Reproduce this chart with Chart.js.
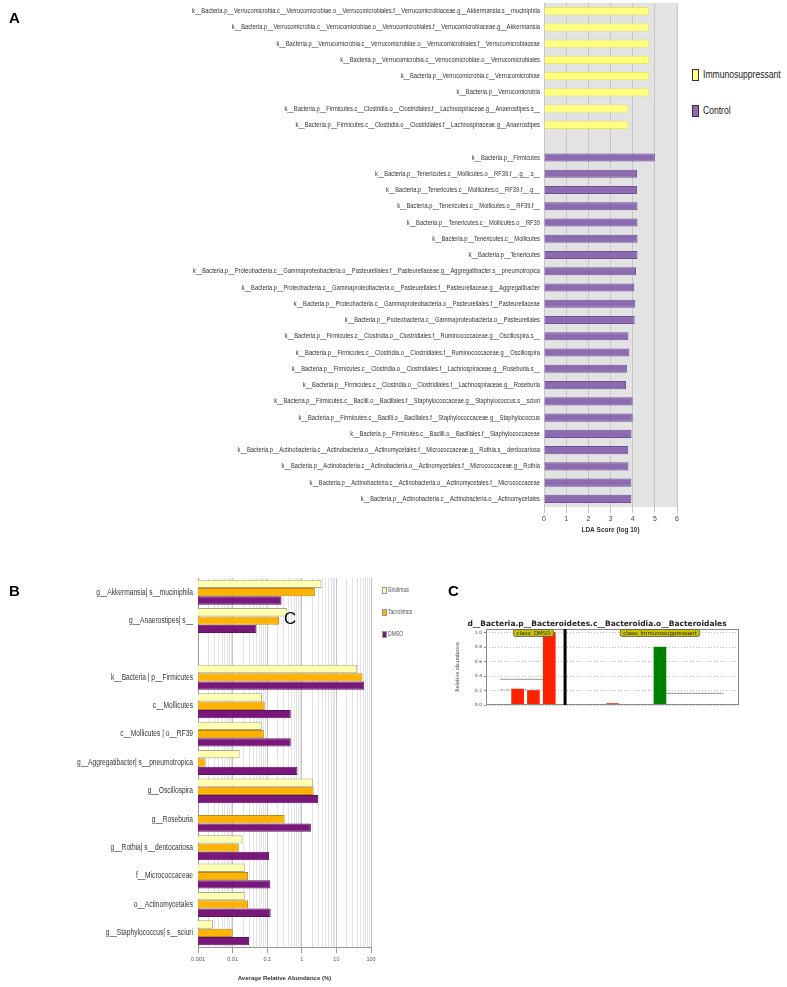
<!DOCTYPE html>
<html><head><meta charset="utf-8">
<script src="https://cdn.jsdelivr.net/npm/chart.js@4.4.1/dist/chart.umd.min.js"></script>
<style>
body{margin:0;background:#fff;width:787px;height:987px;position:relative;overflow:hidden;font-family:'Liberation Sans',Arial,sans-serif}
canvas{position:absolute}
.t{position:absolute;white-space:nowrap;line-height:1}
.n{transform:scaleX(0.78);transform-origin:0 50%}
.sq{position:absolute;box-sizing:border-box;border:1px solid #333}
</style></head><body>
<canvas id="cA" width="690" height="540" style="left:0px;top:0px"></canvas>
<canvas id="cB" width="380" height="417" style="left:0px;top:570px"></canvas>
<canvas id="cC" width="300" height="110" style="left:455px;top:615px"></canvas>

<div class="t" style="left:9px;top:10px;font-size:15px;font-weight:bold">A</div>
<div class="t" style="left:9px;top:583px;font-size:15px;font-weight:bold">B</div>
<div class="t" style="left:448px;top:583px;font-size:15px;font-weight:bold">C</div>
<div class="t" style="left:284px;top:610px;font-size:17px">C</div>

<div class="sq" style="left:692px;top:69px;width:7px;height:12px;background:#ffff80"></div>
<div class="t n" style="left:703px;top:69px;font-size:11px;color:#222">Immunosuppressant</div>
<div class="sq" style="left:692px;top:105px;width:7px;height:12px;background:#8c6bb1"></div>
<div class="t n" style="left:703px;top:105px;font-size:11px;color:#222">Control</div>

<div class="sq" style="left:382px;top:587px;width:5px;height:7px;background:#ffffb0;border-color:#999"></div>
<div class="t n" style="left:388px;top:587px;font-size:6.5px;color:#555">Sirolimus</div>
<div class="sq" style="left:382px;top:609px;width:5px;height:7px;background:#ffb300;border-color:#999"></div>
<div class="t n" style="left:388px;top:609px;font-size:6.5px;color:#555">Tacrolimus</div>
<div class="sq" style="left:382px;top:631px;width:5px;height:7px;background:#7a177a;border-color:#999"></div>
<div class="t n" style="left:388px;top:631px;font-size:6.5px;color:#555">DMSO</div>

<script>
// ---------- Panel A data (LDA scores, log10) ----------
const ldaLabels = [
 'k__Bacteria.p__Verrucomicrobia.c__Verrucomicrobiae.o__Verrucomicrobiales.f__Verrucomicrobiaceae.g__Akkermansia.s__muciniphila',
 'k__Bacteria.p__Verrucomicrobia.c__Verrucomicrobiae.o__Verrucomicrobiales.f__Verrucomicrobiaceae.g__Akkermansia',
 'k__Bacteria.p__Verrucomicrobia.c__Verrucomicrobiae.o__Verrucomicrobiales.f__Verrucomicrobiaceae',
 'k__Bacteria.p__Verrucomicrobia.c__Verrucomicrobiae.o__Verrucomicrobiales',
 'k__Bacteria.p__Verrucomicrobia.c__Verrucomicrobiae',
 'k__Bacteria.p__Verrucomicrobia',
 'k__Bacteria.p__Firmicutes.c__Clostridia.o__Clostridiales.f__Lachnospiraceae.g__Anaerostipes.s__',
 'k__Bacteria.p__Firmicutes.c__Clostridia.o__Clostridiales.f__Lachnospiraceae.g__Anaerostipes',
 '',
 'k__Bacteria.p__Firmicutes',
 'k__Bacteria.p__Tenericutes.c__Mollicutes.o__RF39.f__.g__.s__',
 'k__Bacteria.p__Tenericutes.c__Mollicutes.o__RF39.f__.g__',
 'k__Bacteria.p__Tenericutes.c__Mollicutes.o__RF39.f__',
 'k__Bacteria.p__Tenericutes.c__Mollicutes.o__RF39',
 'k__Bacteria.p__Tenericutes.c__Mollicutes',
 'k__Bacteria.p__Tenericutes',
 'k__Bacteria.p__Proteobacteria.c__Gammaproteobacteria.o__Pasteurellales.f__Pasteurellaceae.g__Aggregatibacter.s__pneumotropica',
 'k__Bacteria.p__Proteobacteria.c__Gammaproteobacteria.o__Pasteurellales.f__Pasteurellaceae.g__Aggregatibacter',
 'k__Bacteria.p__Proteobacteria.c__Gammaproteobacteria.o__Pasteurellales.f__Pasteurellaceae',
 'k__Bacteria.p__Proteobacteria.c__Gammaproteobacteria.o__Pasteurellales',
 'k__Bacteria.p__Firmicutes.c__Clostridia.o__Clostridiales.f__Ruminococcaceae.g__Oscillospira.s__',
 'k__Bacteria.p__Firmicutes.c__Clostridia.o__Clostridiales.f__Ruminococcaceae.g__Oscillospira',
 'k__Bacteria.p__Firmicutes.c__Clostridia.o__Clostridiales.f__Lachnospiraceae.g__Roseburia.s__',
 'k__Bacteria.p__Firmicutes.c__Clostridia.o__Clostridiales.f__Lachnospiraceae.g__Roseburia',
 'k__Bacteria.p__Firmicutes.c__Bacilli.o__Bacillales.f__Staphylococcaceae.g__Staphylococcus.s__sciuri',
 'k__Bacteria.p__Firmicutes.c__Bacilli.o__Bacillales.f__Staphylococcaceae.g__Staphylococcus',
 'k__Bacteria.p__Firmicutes.c__Bacilli.o__Bacillales.f__Staphylococcaceae',
 'k__Bacteria.p__Actinobacteria.c__Actinobacteria.o__Actinomycetales.f__Micrococcaceae.g__Rothia.s__dentocariosa',
 'k__Bacteria.p__Actinobacteria.c__Actinobacteria.o__Actinomycetales.f__Micrococcaceae.g__Rothia',
 'k__Bacteria.p__Actinobacteria.c__Actinobacteria.o__Actinomycetales.f__Micrococcaceae',
 'k__Bacteria.p__Actinobacteria.c__Actinobacteria.o__Actinomycetales'
];
const ldaImmuno = [4.75,4.75,4.75,4.75,4.75,4.75,3.81,3.81,
  null,null,null,null,null,null,null,null,null,null,null,null,null,null,null,null,null,null,null,null,null,null,null];
const ldaControl = [null,null,null,null,null,null,null,null,null,
  5.0,4.2,4.2,4.22,4.22,4.22,4.22,4.15,4.07,4.12,4.09,3.81,3.85,3.74,3.70,4.0,4.0,3.95,3.80,3.81,3.94,3.94];
const ldaTicks = [0,1,2,3,4,5,6];

// ---------- Panel B data (average relative abundance, %) ----------
const abLabels = ['g__Akkermansia| s__muciniphila','g__Anaerostipes| s__','',
  'k__Bacteria | p__Firmicutes','c__Mollicutes','c__Mollicutes | o__RF39',
  'g__Aggregatibacter| s__pneumotropica','g__Oscillospira','g__Roseburia',
  'g__Rothia| s__dentocariosa','f__Micrococcaceae','o__Actinomycetales','g__Staphylococcus| s__sciuri'];
const abSirolimus  = [3.7, 0.38, null, 40, 0.071, 0.069, 0.016, 2.13, null, 0.0193, 0.0225, 0.0225, 0.0027];
const abTacrolimus = [2.39, 0.22, null, 57, 0.085, 0.080, 0.00167, 2.2, 0.32, 0.0151, 0.028, 0.028, 0.0101];
const abDMSO       = [0.26, 0.049, null, 64, 0.48, 0.48, 0.75, 2.97, 1.83, 0.1135, 0.124, 0.126, 0.030];
const abTickLabels = ['0.001','0.01','0.1','1','10','100'];

// ---------- Panel C data (relative abundance per sample) ----------
const cTitle = 'd__Bacteria.p__Bacteroidetes.c__Bacteroidia.o__Bacteroidales';
const cDmsoX = [1,2,3,4];          const cDmsoY = [0,0.22,0.2,1.0];
const cImmRedX = [6,7,8,9,10];     const cImmRedY = [0,0,0.02,0,0];
const cImmGreenX = [11,12,13,14,15]; const cImmGreenY = [0.8,0,0,0,0];
const cDmsoMean = 0.355, cDmsoMedian = 0.21, cImmGreenMean = 0.16;
const cClassLabels = ['class: DMSO','class: Immunosuppressant'];
const cClassPos = [3.0, 11.0];
const cDivider = 5;

const SANS = "'Liberation Sans',Arial,sans-serif";

// draw an axis' tick labels horizontally condensed (narrow typeface look)
function condenseLabels(scale, k){
  scale.paddingTop = 0; scale.paddingBottom = 0;
  if (scale._condensed) return;
  scale._condensed = true;
  scale.drawLabels = function(ca){
    const ctx = this.ctx;
    const pivot = this.right - (this.options.ticks.padding || 0);
    ctx.save();
    ctx.translate(pivot, 0); ctx.scale(k, 1); ctx.translate(-pivot, 0);
    Chart.Scale.prototype.drawLabels.call(this, ca);
    ctx.restore();
  };
}

// ---------- Panel A ----------
const bgPlugin = {
  id:'bg',
  beforeDraw(chart, args, opts){
    const {ctx, chartArea:a} = chart;
    ctx.save(); ctx.fillStyle = opts.color; ctx.fillRect(a.left, a.top, a.right-a.left, a.bottom-a.top); ctx.restore();
  }
};
new Chart(document.getElementById('cA'), {
  type:'bar',
  data:{ labels: ldaLabels, datasets:[
    {label:'Immunosuppressant', data: ldaImmuno, backgroundColor:'#ffff80', borderColor:'#e8e860', borderWidth:1},
    {label:'Control', data: ldaControl, backgroundColor:'#8c6bb1', borderColor:'#6f5096', borderWidth:1}
  ]},
  options:{
    indexAxis:'y', responsive:false, animation:false,
    devicePixelRatio:1,
    layout:{padding:{top:3,right:13,left:0,bottom:0}},
    datasets:{bar:{grouped:false, categoryPercentage:1, barPercentage:0.5}},
    plugins:{legend:{display:false}, tooltip:{enabled:false}, bg:{color:'#e3e3e3'}},
    scales:{
      x:{ min:0, max:6, afterFit(s){ s.height = 33; },
          afterBuildTicks(s){ s.ticks = ldaTicks.map(v=>({value:v})); },
          grid:{color:'#c6c6c6', tickLength:6, tickColor:'#c6c6c6'},
          border:{display:false},
          ticks:{font:{family:SANS,size:7}, color:'#444', padding:2, maxRotation:0},
          title:{display:true, text:'LDA Score (log 10)', font:{family:SANS,size:6.5,weight:'bold'}, color:'#333', padding:{top:0,bottom:6}} },
      y:{ afterFit(s){ s.width = 544; condenseLabels(s, 0.77); },
          grid:{display:false, drawTicks:false}, border:{display:false},
          ticks:{font:{family:SANS,size:7.5}, color:'#333', padding:4, autoSkip:false} }
    }
  },
  plugins:[bgPlugin]
});

// ---------- Panel B ----------
function fmtPow(v){
  const e = Math.round(Math.log10(v));
  return abTickLabels[e+3];
}
function isPow(v){ const l = Math.log10(v); return Math.abs(l-Math.round(l))<1e-9; }
new Chart(document.getElementById('cB'), {
  type:'bar',
  data:{ labels: abLabels, datasets:[
    {label:'Sirolimus', data: abSirolimus, backgroundColor:'#ffffb0', borderColor:'#a8a890', borderWidth:1},
    {label:'Tacrolimus', data: abTacrolimus, backgroundColor:'#ffb300', borderColor:'#b88a20', borderWidth:1},
    {label:'DMSO', data: abDMSO, backgroundColor:'#7a177a', borderColor:'#5a1060', borderWidth:1}
  ]},
  options:{
    indexAxis:'y', responsive:false, animation:false, devicePixelRatio:1,
    layout:{padding:{top:8,right:9,left:0,bottom:0}},
    datasets:{bar:{categoryPercentage:0.88, barPercentage:1}},
    plugins:{legend:{display:false}, tooltip:{enabled:false}},
    scales:{
      x:{ type:'logarithmic', min:0.001, max:100, afterFit(s){ s.height = 40; },
          afterBuildTicks(s){
            const t=[];
            for(let e=-3;e<=1;e++){ for(let m=1;m<=9;m++){ t.push({value: +(m*Math.pow(10,e)).toPrecision(3)}); } }
            t.push({value:100});
            s.ticks = t;
          },
          grid:{ color:(c)=> (c.tick && isPow(c.tick.value)) ? '#c4c4c4' : '#e2e2e2', tickLength:6,
                 tickColor:(c)=> (c.tick && isPow(c.tick.value)) ? '#999' : 'rgba(0,0,0,0)'},
          border:{color:'#999'},
          ticks:{ autoSkip:false, maxRotation:0, font:{family:SANS,size:5.5}, color:'#555', padding:3,
                  callback:(v)=> isPow(v) ? fmtPow(v) : '' },
          title:{display:true, text:'Average Relative Abundance (%)', font:{family:SANS,size:6,weight:'bold'}, color:'#333', padding:{top:0,bottom:5}} },
      y:{ afterFit(s){ s.width = 198; condenseLabels(s, 0.78); },
          grid:{display:false, drawTicks:false}, border:{color:'#999'},
          ticks:{font:{family:SANS,size:8.5}, color:'#333', padding:5, autoSkip:false} }
    }
  }
});

// ---------- Panel C ----------
const framePlugin = {
  id:'frame',
  afterDatasetsDraw(chart){
    const {ctx, chartArea:a, scales:{x,y}} = chart;
    ctx.save();
    ctx.strokeStyle='#888'; ctx.lineWidth=1;
    ctx.strokeRect(a.left+0.5, a.top+0.5, a.right-a.left-1, a.bottom-a.top-1);
    const dx = x.getPixelForValue(cDivider);
    ctx.strokeStyle='#000'; ctx.lineWidth=3;
    ctx.beginPath(); ctx.moveTo(dx, a.top); ctx.lineTo(dx, a.bottom); ctx.stroke();
    ctx.font = "5.5px 'DejaVu Sans', sans-serif"; ctx.textAlign='center'; ctx.textBaseline='middle';
    cClassLabels.forEach((lab,i)=>{
      const cx = x.getPixelForValue(cClassPos[i]);
      const w = ctx.measureText(lab).width + 6, h = 7, ty = a.top + 4;
      ctx.fillStyle='#c8c400'; ctx.strokeStyle='#555'; ctx.lineWidth=0.8;
      ctx.beginPath(); ctx.roundRect(cx-w/2, ty-h/2, w, h, 2); ctx.fill(); ctx.stroke();
      ctx.fillStyle='#222'; ctx.fillText(lab, cx, ty+0.5);
    });
    ctx.restore();
  }
};
const pts = (xs,ys)=> xs.map((v,i)=>({x:v,y:ys[i]}));
new Chart(document.getElementById('cC'), {
  type:'bar',
  data:{ datasets:[
    {type:'bar', data: pts(cDmsoX,cDmsoY), backgroundColor:'#ff2200', barThickness:12},
    {type:'bar', data: pts(cImmRedX,cImmRedY), backgroundColor:'#ff2200', barThickness:12},
    {type:'bar', data: pts(cImmGreenX,cImmGreenY), backgroundColor:'#008000', barThickness:12},
    {type:'line', data:[{x:cDmsoX[0]-0.1,y:cDmsoMean},{x:cDmsoX[3]+0.05,y:cDmsoMean}], borderColor:'#aaa', borderWidth:1.2, pointRadius:0},
    {type:'line', data:[{x:cDmsoX[0]-0.1,y:cDmsoMedian},{x:cDmsoX[3],y:cDmsoMedian}], borderColor:'#aaa', borderWidth:1.2, borderDash:[3,3], pointRadius:0},
    {type:'line', data:[{x:cImmGreenX[0],y:cImmGreenMean},{x:cImmGreenX[4],y:cImmGreenMean}], borderColor:'#aaa', borderWidth:1.2, pointRadius:0}
  ]},
  options:{
    responsive:false, animation:false, devicePixelRatio:1,
    layout:{padding:{top:0,right:16,left:0,bottom:20}},
    datasets:{bar:{grouped:false}},
    plugins:{legend:{display:false}, tooltip:{enabled:false},
      title:{display:true, text:cTitle, font:{family:"'DejaVu Sans',sans-serif", size:7.5}, color:'#222', padding:{top:5,bottom:0}}},
    scales:{
      x:{ type:'linear', min:0, max:16, offset:false, display:false },
      y:{ min:0, max:1.05, afterFit(s){ s.width = 31; },
          afterBuildTicks(s){ s.ticks = [0,0.2,0.4,0.6,0.8,1.0].map(v=>({value:v})); },
          grid:{color:'#bbb', drawTicks:true, tickLength:2, tickColor:'#888'},
          border:{display:false, dash:[1,2]},
          ticks:{font:{family:"'DejaVu Sans',sans-serif", size:4.5}, color:'#444', padding:2, callback:(v)=>v.toFixed(1)},
          title:{display:true, text:'Relative abundance', font:{family:"'DejaVu Sans',sans-serif", size:5}, color:'#333', padding:0} }
    }
  },
  plugins:[framePlugin]
});
</script>
</body></html>
